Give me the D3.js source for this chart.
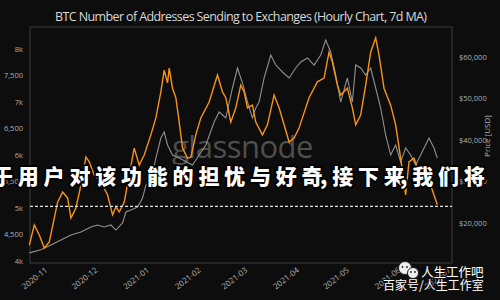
<!DOCTYPE html>
<html>
<head>
<meta charset="utf-8">
<script src="https://cdn.jsdelivr.net/npm/d3@7"></script>
<style>
  html, body { margin: 0; padding: 0; background: #0d0d0d; }
  svg { display: block; }
</style>
</head>
<body>
<svg id="chart" width="500" height="300"></svg>
<script>
// addresses sending to exchanges (7d MA), left axis
const addrDates = ["2020-10-22","2020-10-25","2020-10-28","2020-10-31","2020-11-03","2020-11-06","2020-11-08","2020-11-11","2020-11-14","2020-11-16","2020-11-19","2020-11-22","2020-11-25","2020-11-27","2020-11-30","2020-12-04","2020-12-08","2020-12-11","2020-12-13","2020-12-15","2020-12-18","2020-12-21","2020-12-24","2020-12-27","2020-12-30","2021-01-03","2021-01-06","2021-01-09","2021-01-11","2021-01-13","2021-01-14","2021-01-16","2021-01-18","2021-01-20","2021-01-22","2021-01-25","2021-01-27","2021-01-30","2021-02-02","2021-02-07","2021-02-12","2021-02-15","2021-02-17","2021-02-20","2021-02-23","2021-02-26","2021-02-28","2021-03-02","2021-03-05","2021-03-07","2021-03-11","2021-03-14","2021-03-18","2021-03-21","2021-03-24","2021-03-27","2021-03-30","2021-04-02","2021-04-04","2021-04-08","2021-04-13","2021-04-17","2021-04-20","2021-04-22","2021-04-25","2021-04-27","2021-05-01","2021-05-04","2021-05-06","2021-05-09","2021-05-12","2021-05-15","2021-05-18","2021-05-20","2021-05-23","2021-05-27","2021-05-30","2021-06-02","2021-06-05","2021-06-07","2021-06-10","2021-06-13","2021-06-16","2021-06-20","2021-06-24"];
const addrValues = [4300,4680,4490,4245,4360,4810,5110,5300,5190,4810,5000,5430,5960,5870,5620,5490,5245,4870,5020,4925,5110,5620,6130,5810,6000,6380,6700,7190,7600,7360,7640,7260,7080,6620,6130,5940,5960,6380,6700,7000,7510,7190,7080,6620,6890,7320,7190,6890,6940,6620,6380,6570,7130,6890,6570,6245,6320,6510,6700,7080,7380,7450,7940,7755,7320,7130,7260,6890,6570,6755,7320,7940,8210,7890,7260,6940,6570,5940,5245,5870,5940,5680,5570,5430,5060];

// BTC price, right axis
const priceDates = ["2020-10-22","2020-10-29","2020-11-04","2020-11-10","2020-11-16","2020-11-22","2020-11-28","2020-12-02","2020-12-06","2020-12-10","2020-12-13","2020-12-17","2020-12-19","2020-12-22","2020-12-26","2020-12-29","2020-12-31","2021-01-03","2021-01-06","2021-01-09","2021-01-11","2021-01-13","2021-01-16","2021-01-20","2021-01-28","2021-02-05","2021-02-10","2021-02-13","2021-02-17","2021-02-21","2021-02-24","2021-02-27","2021-03-02","2021-03-05","2021-03-07","2021-03-09","2021-03-12","2021-03-16","2021-03-19","2021-03-23","2021-03-27","2021-03-31","2021-04-03","2021-04-07","2021-04-11","2021-04-15","2021-04-18","2021-04-21","2021-04-24","2021-04-27","2021-05-01","2021-05-04","2021-05-06","2021-05-09","2021-05-12","2021-05-15","2021-05-18","2021-05-21","2021-05-24","2021-05-27","2021-05-30","2021-06-02","2021-06-05","2021-06-08","2021-06-11","2021-06-14","2021-06-19","2021-06-22","2021-06-24"];
const priceValues = [12800,13530,14700,15900,17100,17830,19040,19520,19040,19520,18310,20000,22650,23130,23860,26020,29160,29880,35660,40480,41930,38800,36390,35660,33980,38800,44340,46750,45300,52530,57350,53740,49160,45300,47710,49160,54940,60480,58070,56390,54940,57350,58800,59760,58070,60480,64100,61200,55660,49160,54940,49160,58070,57350,55660,57350,52530,47710,41200,36390,38800,34700,38070,36390,33980,36390,40480,38070,35660];

const leftTicks = [4000,4500,5000,5500,6000,6500,7000,7500,8000];
const rightTicks = [20000,30000,40000,50000,60000];
const refLevel = 5030;

const titleText = "BTC Number of Addresses Sending to Exchanges (Hourly Chart, 7d MA)";
const overlayParts = ["于用户对该功能的担忧与好奇", ",接下来", ",我们将"];

const parse = d3.utcParse("%Y-%m-%d");
const addr = addrDates.map((d, i) => ({date: parse(d), v: addrValues[i]}));
const price = priceDates.map((d, i) => ({date: parse(d), v: priceValues[i]}));

const svg = d3.select("#chart");
const L = 30, R = 452, T = 27, B = 263;

svg.append("rect").attr("width", 500).attr("height", 300).attr("fill", "#0d0d0d");

const x = d3.scaleTime()
  .domain([new Date(Date.UTC(2020, 9, 22, 10)), new Date(Date.UTC(2021, 6, 2, 20))])
  .range([L, R]);
const yL = d3.scaleLinear().domain([4000, 8000]).range([261, 49]);
const yR = d3.scaleLinear().domain([20000, 60000]).range([223, 57]);

// frame
svg.append("rect")
  .attr("x", L).attr("y", T).attr("width", R - L).attr("height", B - T)
  .attr("fill", "none").attr("stroke", "#3c3c3c").attr("stroke-width", 1);

// title
svg.append("text")
  .attr("x", 55).attr("y", 21)
  .attr("font-family", "Open Sans, sans-serif")
  .attr("font-size", 12.5)
  .attr("textLength", 372)
  .attr("lengthAdjust", "spacing")
  .attr("fill", "#d8d8d8")
  .text(titleText);

const fmtLeft = v => v % 1000 === 0 ? (v / 1000) + "k" : d3.format(",")(v);

const gl = svg.append("g").attr("transform", `translate(${L - 4},0)`)
  .call(d3.axisLeft(yL).tickValues(leftTicks).tickSize(0).tickFormat(fmtLeft));
gl.select(".domain").remove();

const gr = svg.append("g").attr("transform", `translate(${R + 4},0)`)
  .call(d3.axisRight(yR).tickValues(rightTicks).tickSize(0).tickFormat(v => "$" + d3.format(",")(v)));
gr.select(".domain").remove();

const gx = svg.append("g").attr("transform", `translate(0,${B + 6})`)
  .call(d3.axisBottom(x).ticks(d3.utcMonth.every(1)).tickSize(0).tickFormat(d3.utcFormat("%Y-%m")));
gx.select(".domain").remove();

svg.selectAll(".tick text")
  .attr("font-family", "Open Sans, sans-serif")
  .attr("font-size", 7.5)
  .attr("fill", "#b0b0b0");

gx.selectAll("text")
  .attr("text-anchor", "end")
  .attr("font-size", 8)
  .attr("y", 0)
  .attr("dy", "0.35em")
  .attr("transform", "rotate(-38)");

svg.append("text")
  .attr("transform", "translate(490,136) rotate(-90)")
  .attr("text-anchor", "middle")
  .attr("font-family", "Open Sans, sans-serif")
  .attr("font-size", 8)
  .attr("fill", "#b0b0b0")
  .text("Price [USD]");

// watermark
svg.append("text")
  .attr("x", 172).attr("y", 158)
  .attr("font-family", "Open Sans, sans-serif")
  .attr("font-size", 31)
  .attr("letter-spacing", -0.5)
  .attr("fill", "#6a6a6a")
  .attr("opacity", 0.7)
  .text("glassnode");

const line = (yScale) => d3.line().x(d => x(d.date)).y(d => yScale(d.v));

svg.append("path").datum(price)
  .attr("d", line(yR))
  .attr("fill", "none").attr("stroke", "#909090").attr("stroke-width", 1.1);

svg.append("path").datum(addr)
  .attr("d", line(yL))
  .attr("fill", "none").attr("stroke", "#f7931a").attr("stroke-width", 1.4);

svg.append("line")
  .attr("x1", L).attr("x2", R)
  .attr("y1", yL(refLevel)).attr("y2", yL(refLevel))
  .attr("stroke", "#e0e0e0").attr("stroke-width", 1.2)
  .attr("stroke-dasharray", "3,2");

// overlay caption
const capX = [-8, 320, 400];
svg.selectAll(".cap").data(overlayParts).join("text")
  .attr("class", "cap")
  .attr("x", (d, i) => capX[i]).attr("y", 184)
  .attr("font-family", "Noto Sans CJK SC, sans-serif")
  .attr("font-weight", 900)
  .attr("font-size", 21)
  .attr("letter-spacing", 4.8)
  .attr("fill", "#ffffff")
  .attr("stroke", "#000")
  .attr("stroke-width", 3.5)
  .attr("paint-order", "stroke")
  .text(d => d);

// bottom-right badge
const badge = svg.append("g");
badge.append("circle").attr("cx", 405).attr("cy", 268).attr("r", 6.5).attr("fill", "#eee").attr("stroke", "#222");
badge.append("circle").attr("cx", 413).attr("cy", 273).attr("r", 5.5).attr("fill", "#eee").attr("stroke", "#222");
[[402.5,267],[407,267],[411,272],[415,272]].forEach(p =>
  badge.append("circle").attr("cx", p[0]).attr("cy", p[1]).attr("r", 0.9).attr("fill", "#222"));
badge.append("text")
  .attr("x", 421).attr("y", 277)
  .attr("font-family", "Noto Sans CJK SC, sans-serif")
  .attr("font-size", 12.5)
  .attr("fill", "#fff").attr("stroke", "#111").attr("stroke-width", 2).attr("paint-order", "stroke")
  .text("人生工作吧");
badge.append("text")
  .attr("x", 383).attr("y", 290)
  .attr("font-family", "Noto Sans CJK SC, sans-serif")
  .attr("font-size", 12)
  .attr("fill", "#fff").attr("stroke", "#111").attr("stroke-width", 2).attr("paint-order", "stroke")
  .text("百家号/人生工作室");
</script>
</body>
</html>
